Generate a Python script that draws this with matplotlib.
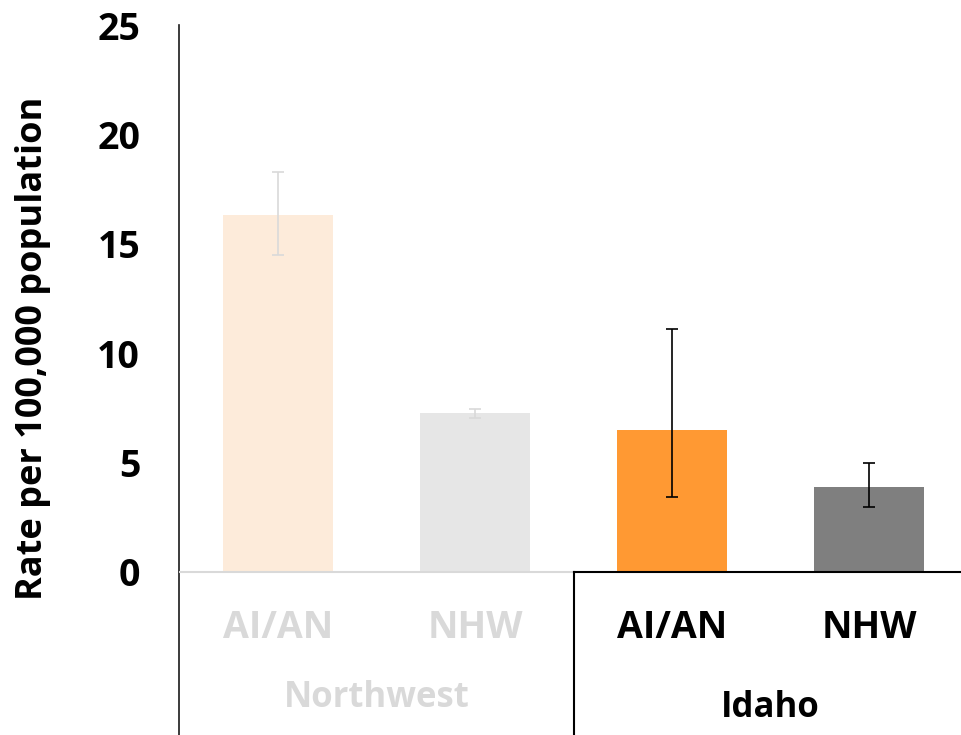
import matplotlib
matplotlib.use("Agg")
import matplotlib.pyplot as plt

# values
categories = ["AI/AN", "NHW", "AI/AN", "NHW"]
regions = ["Northwest", "Idaho"]
rates = [16.3, 7.25, 6.5, 3.9]
ci_low = [14.5, 7.05, 3.45, 2.95]
ci_high = [18.3, 7.45, 11.1, 5.0]

bar_colors = ["#FDEBDA", "#E6E6E6", "#FF9933", "#7F7F7F"]
err_colors = ["#D9D9D9", "#D9D9D9", "#000000", "#000000"]
label_colors = ["#D9D9D9", "#D9D9D9", "#000000", "#000000"]
region_colors = ["#D9D9D9", "#000000"]

plt.rcParams['font.family'] = ['Open Sans', 'DejaVu Sans']

fig = plt.figure(figsize=(9.62, 7.35), dpi=100)
ax = fig.add_axes([179 / 962, 0, 1 - 179 / 962, 1 - 25 / 735])

x = list(range(len(categories)))
ax.bar(x, rates, width=0.56, color=bar_colors, zorder=2)
for i in x:
    ax.errorbar(i, rates[i], yerr=[[rates[i] - ci_low[i]], [ci_high[i] - rates[i]]],
                fmt='none', ecolor=err_colors[i], elinewidth=1.2, capsize=4.5,
                capthick=1.2, zorder=3)

ylow = -(735 - 572) / ((572 - 25) / 25)
ax.set_ylim(ylow, 25)
ax.set_xlim(-0.503, 3.472)
ax.set_yticks([0, 5, 10, 15, 20, 25])
ax.set_xticks([])
ax.tick_params(axis='y', length=0, pad=28, labelsize=27)
for lbl in ax.get_yticklabels():
    lbl.set_fontweight('bold')

for s in ['top', 'right', 'bottom']:
    ax.spines[s].set_visible(False)
ax.spines['left'].set_color('#1a1a1a')
ax.spines['left'].set_linewidth(1.2)

# baseline split by region, plus group separator
ax.plot([-0.503, 1.5], [0, 0], color='#D9D9D9', lw=1.5, zorder=4)
ax.plot([1.5, 3.472], [0, 0], color='#000000', lw=1.5, zorder=4)
ax.plot([1.5, 1.5], [ylow, 0], color='#000000', lw=1.5, zorder=4)

for i in x:
    ax.text(i, -2.56, categories[i], ha='center', va='center', fontsize=27,
            fontweight='bold', color=label_colors[i])
ax.text(0.5, -5.76, regions[0], ha='center', va='center', fontsize=25,
        fontweight='bold', color=region_colors[0])
ax.text(2.5, -6.2, regions[1], ha='center', va='center', fontsize=25,
        fontweight='bold', color=region_colors[1])

fig.text(33 / 962, 1 - 348 / 735, "Rate per 100,000 population", rotation=90,
         ha='center', va='center', fontsize=26, fontweight='bold')

fig.savefig("out.png", dpi=100)
